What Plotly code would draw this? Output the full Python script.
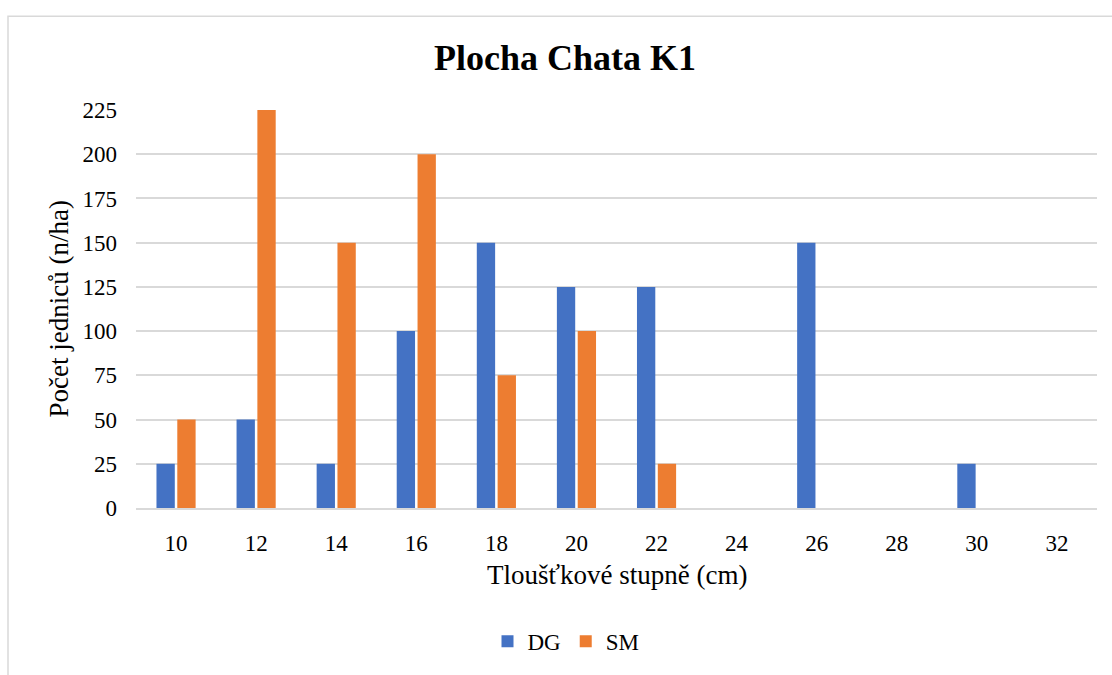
import plotly.graph_objects as go

categories = ["10", "12", "14", "16", "18", "20", "22", "24", "26", "28", "30", "32"]
dg_values = [25, 50, 25, 100, 150, 125, 125, 0, 150, 0, 25, 0]
sm_values = [50, 225, 150, 200, 75, 100, 25, 0, 0, 0, 0, 0]
y_ticks = [0, 25, 50, 75, 100, 125, 150, 175, 200, 225]

FONT = "Liberation Serif"

fig = go.Figure()
fig.add_trace(go.Bar(name="DG", x=categories, y=dg_values, marker_color="#4472C4",
                     marker_line_width=0))
fig.add_trace(go.Bar(name="SM", x=categories, y=sm_values, marker_color="#ED7D31",
                     marker_line_width=0))

L, R, T, B = 136, 15, 110, 162
W, H = 1112, 675
pw = W - L - R
ph = H - T - B

def px_x(x):
    return (x - L) / pw

def px_y(y):
    return (H - B - y) / ph

fig.update_layout(
    width=W, height=H,
    margin=dict(l=L, r=R, t=T, b=B),
    paper_bgcolor="white", plot_bgcolor="white",
    font=dict(family=FONT, size=23, color="#000000"),
    barmode="group", bargap=0.48, bargroupgap=0.12,
    title=dict(text="<b>Plocha Chata K1</b>", font=dict(family=FONT, size=36, color="#000000"),
               x=px_x(565), xref="paper", xanchor="center",
               y=1 - 57 / H, yanchor="middle"),
    showlegend=True,
    legend=dict(orientation="h", x=px_x(566), xanchor="center", y=px_y(648), yanchor="middle",
                font=dict(family=FONT, size=23), itemwidth=30, traceorder="normal"),
    xaxis=dict(
        type="category", showgrid=False, showline=True, linecolor="#D9D9D9", linewidth=1.5,
        ticks="", ticklabelstandoff=14, tickfont=dict(family=FONT, size=23),
    ),
    yaxis=dict(
        range=[0, 225], tickvals=y_ticks, showgrid=True, gridcolor="#D9D9D9", gridwidth=1.5,
        zeroline=False, showline=False, ticks="", ticklabelstandoff=18,
        tickfont=dict(family=FONT, size=23),
    ),
    annotations=[
        dict(text="Tloušťkové stupně (cm)", xref="paper", yref="paper",
             x=px_x(617), y=px_y(581), xanchor="center", yanchor="middle",
             showarrow=False, font=dict(family=FONT, size=27, color="#000000")),
        dict(text="Počet jedniců (n/ha)", xref="paper", yref="paper", textangle=-90,
             x=px_x(59), y=px_y(312), xanchor="center", yanchor="middle",
             showarrow=False, font=dict(family=FONT, size=27, color="#000000")),
    ],
    shapes=[dict(type="rect", xref="paper", yref="paper",
                 x0=px_x(8), x1=px_x(1125), y0=px_y(15), y1=px_y(700),
                 line=dict(color="#D9D9D9", width=1.5), fillcolor="rgba(0,0,0,0)", layer="below")],
)

fig.write_html("out.html", config={"displayModeBar": False},
               post_script="document.body.style.margin='0';")
